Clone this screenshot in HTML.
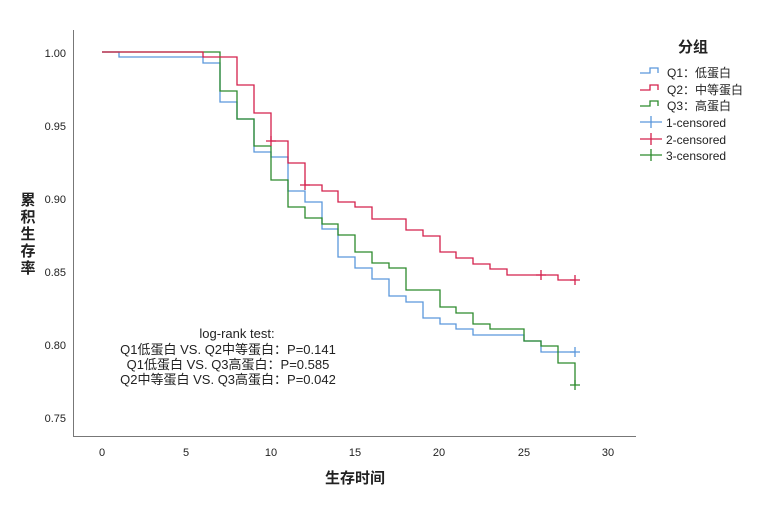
<!DOCTYPE html>
<html><head><meta charset="utf-8"><style>
body{margin:0;background:#fff;}
svg text{font-family:"Liberation Sans","Noto Sans CJK SC",sans-serif;fill:#222;}
</style></head><body>
<svg width="771" height="501" xmlns="http://www.w3.org/2000/svg">
<rect width="771" height="501" fill="#fff"/>
<g stroke="#777" stroke-width="1" fill="none">
<path d="M73.5,30 V436.5 H636"/>
</g>
<g font-size="11" text-anchor="end">
<text x="66" y="57">1.00</text><text x="66" y="130">0.95</text><text x="66" y="203">0.90</text>
<text x="66" y="276">0.85</text><text x="66" y="349">0.80</text><text x="66" y="422">0.75</text>
</g>
<g font-size="11" text-anchor="middle">
<text x="102" y="456">0</text><text x="186" y="456">5</text><text x="271" y="456">10</text>
<text x="355" y="456">15</text><text x="439" y="456">20</text><text x="524" y="456">25</text><text x="608" y="456">30</text>
</g>
<text x="355" y="483" font-size="15" font-weight="bold" text-anchor="middle">生存时间</text>
<g font-size="15" font-weight="bold" text-anchor="middle">
<text x="28" y="205">累</text><text x="28" y="222">积</text><text x="28" y="239">生</text><text x="28" y="256">存</text><text x="28" y="273">率</text>
</g>
<g fill="none" stroke-width="1.3">
<path stroke="#5a97dc" d="M102,52 H119 V57 H203 V63 H220 V102 H237 V119 H254 V152 H271 V157 H288 V191 H305 V202 H322 V229 H338 V257 H355 V268 H372 V279 H389 V296 H406 V302 H423 V318 H440 V324 H456 V329 H473 V335 H524 V341 H541 V352 H575"/>
<path stroke="#2c8a2c" d="M102,52 H220 V91 H237 V119 H254 V146 H271 V180 H288 V207 H305 V218 H322 V224 H338 V235 H355 V252 H372 V263 H389 V268 H406 V290 H440 V307 H456 V313 H473 V324 H490 V329 H524 V341 H541 V346 H558 V363 H575 V385"/>
<path stroke="#d4204c" d="M102,52 H203 V57 H237 V85 H254 V113 H271 V141 H288 V163 H305 V185 H322 V191 H338 V202 H355 V207 H372 V219 H406 V230 H423 V236 H440 V252 H456 V258 H473 V264 H490 V269 H507 V275 H558 V280 H575"/>
<path stroke="#d4204c" d="M266,141h10M271,136v10M300,185h10M305,180v10M536,275h10M541,270v10M570,280h10M575,275v10"/>
<path stroke="#5a97dc" d="M570,352h10M575,347v10"/>
<path stroke="#2c8a2c" d="M570,385h10M575,380v10"/>
</g>
<g font-size="13" text-anchor="middle">
<text x="237" y="338">log-rank test:</text>
<text x="228" y="354">Q1低蛋白 VS. Q2中等蛋白：P=0.141</text>
<text x="228" y="369">Q1低蛋白 VS. Q3高蛋白：P=0.585</text>
<text x="228" y="384">Q2中等蛋白 VS. Q3高蛋白：P=0.042</text>
</g>
<text x="693" y="52" font-size="15" font-weight="bold" text-anchor="middle">分组</text>
<g fill="none" stroke-width="1.3">
<path stroke="#5a97dc" d="M640,73h10v-5h8v5"/>
<path stroke="#d4204c" d="M640,90h10v-5h8v5"/>
<path stroke="#2c8a2c" d="M640,106h10v-5h8v5"/>
<path stroke="#5a97dc" d="M640,122h22M651,116v12"/>
<path stroke="#d4204c" d="M640,139h22M651,133v12"/>
<path stroke="#2c8a2c" d="M640,155h22M651,149v12"/>
</g>
<g font-size="12">
<text x="667" y="77">Q1：低蛋白</text><text x="667" y="94">Q2：中等蛋白</text><text x="667" y="110">Q3：高蛋白</text>
<text x="666" y="127">1-censored</text><text x="666" y="144">2-censored</text><text x="666" y="160">3-censored</text>
</g>
</svg>
</body></html>
